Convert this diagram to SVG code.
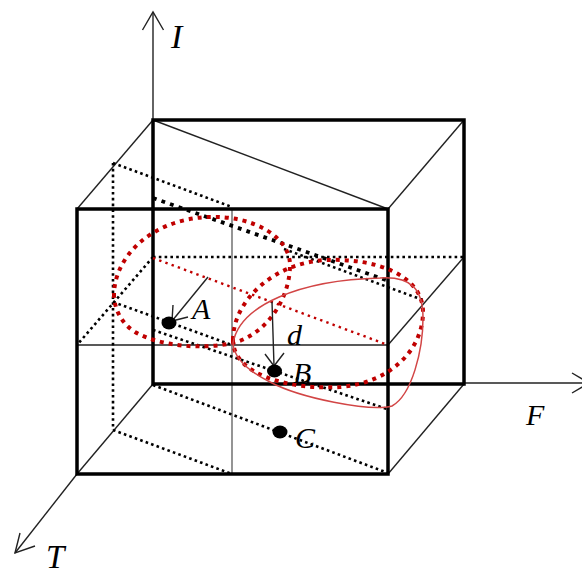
<svg xmlns="http://www.w3.org/2000/svg" width="582" height="574" viewBox="0 0 582 574">
<style>
.thick{fill:none;stroke:#000;stroke-width:3.5;stroke-linejoin:miter}
.thin{fill:none;stroke:#222;stroke-width:1.4}
.gray{fill:none;stroke:#7a7a7a;stroke-width:1.6}
.dot{fill:none;stroke:#000;stroke-width:2.6;stroke-dasharray:2.6 3.2}
.dotb{fill:none;stroke:#000;stroke-width:3.8;stroke-dasharray:3.8 5.2}
.rdot{fill:none;stroke:#c00000;stroke-width:4;stroke-dasharray:4 5}
.rdots{fill:none;stroke:#c00000;stroke-width:2.4;stroke-dasharray:2.4 4.2}
.rsol{fill:none;stroke:#d24545;stroke-width:1.5}
.lbl{font-family:"Liberation Serif","Times New Roman",serif;font-style:italic;fill:#000}
.pt{fill:#000}
</style>
<rect width="582" height="574" fill="#fff"/>
<g id="axes">
  <line class="thin" x1="153" y1="120" x2="153" y2="12"/>
  <polyline class="thin" points="142.5,30 153,12 163.5,30"/>
  <line class="thin" x1="464" y1="383" x2="589" y2="383"/>
  <polyline class="thin" points="572,373 589,383 572,393"/>
  <line class="thin" x1="77" y1="474" x2="15" y2="553"/>
  <polyline class="thin" points="20,533 15,553 35,546"/>
  <text class="lbl" x="171" y="48" font-size="34">I</text>
  <text class="lbl" x="526" y="425" font-size="30">F</text>
  <text class="lbl" x="46" y="568" font-size="33">T</text>
</g>
<g id="cube">
  <line class="thin" x1="153" y1="120" x2="77" y2="209"/>
  <line class="thin" x1="464" y1="120" x2="388" y2="209"/>
  <line class="thin" x1="464" y1="384" x2="388" y2="474"/>
  <line class="thin" x1="153" y1="384" x2="77" y2="474"/>
  <line class="thin" x1="153" y1="120" x2="388" y2="209"/>
  <line class="thin" x1="77" y1="345" x2="388" y2="345"/>
  <line class="thin" x1="388" y1="345" x2="464" y2="257"/>
  <line class="gray" x1="232" y1="208" x2="232" y2="474"/>
  <rect class="thick" x="153" y="120" width="311" height="264"/>
  <rect class="thick" x="77" y="209" width="311" height="265"/>
</g>
<g id="connectors">
  <line class="dot" x1="153" y1="257" x2="464" y2="257"/>
  <line class="dot" x1="153" y1="257" x2="77" y2="345"/>
  <line class="dot" x1="113" y1="163" x2="232" y2="207"/>
  <line class="dot" x1="113" y1="163" x2="113" y2="430"/>
  <line class="dot" x1="113" y1="430" x2="232" y2="474"/>
  <line class="dotb" x1="153" y1="198" x2="386" y2="280"/>
  <line class="dot" x1="284" y1="249" x2="423" y2="300"/>
  <line class="dot" x1="113" y1="302" x2="232" y2="345"/>
  <line class="dot" x1="153" y1="330" x2="387" y2="409"/>
  <line class="dot" x1="153" y1="385" x2="388" y2="473"/>
  <line class="rdots" x1="153" y1="258" x2="388" y2="345"/>
  <path class="rdot" d="M114,297 C113,258 150,220 207,217 C255,215 290,238 290,265 C290,300 265,335 233,343 C200,350 160,346 135,332 C122,324 115,310 114,297 Z"/>
  <path class="rdot" d="M233,340 C233,300 275,262 327,260 C375,258 423,275 423,312 C423,350 390,383 340,387 C290,390 233,375 233,340 Z"/>
  <path class="rsol" d="M233,343 C240,305 300,280 380,278 C412,276 423,290 423,318 C423,350 412,395 392,406 C370,412 300,398 270,382 C250,372 234,360 233,343 Z"/>
  <line class="thin" x1="208" y1="277" x2="172" y2="321"/>
  <polyline class="thin" points="173,305 172,321 188,317"/>
  <line class="thin" x1="272" y1="302" x2="274" y2="366"/>
  <polyline class="thin" points="265,354 274,366 284,353"/>
</g>
<g id="A">
  <ellipse class="pt" cx="169" cy="323" rx="7.5" ry="6.5"/>
  <text class="lbl" x="192" y="319" font-size="30">A</text>
</g>
<g id="B">
  <ellipse class="pt" cx="274.5" cy="371" rx="7.5" ry="6.5"/>
  <text class="lbl" x="293" y="383" font-size="30">B</text>
</g>
<g id="C">
  <ellipse class="pt" cx="280" cy="432" rx="7.5" ry="6.5"/>
  <text class="lbl" x="295" y="448" font-size="30">C</text>
</g>
<g id="d">
  <text class="lbl" x="287" y="345" font-size="30">d</text>
</g>
</svg>
